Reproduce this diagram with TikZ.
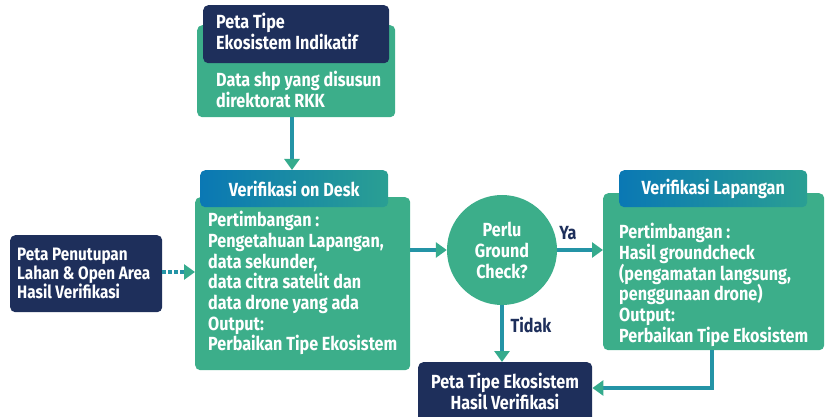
\documentclass[tikz,border=0pt]{standalone}
\usepackage{fontspec}
\setmainfont{Fira Sans}[FakeStretch=0.85]
\usetikzlibrary{arrows.meta,positioning}
\definecolor{gbox}{HTML}{3CAE8A}
\definecolor{navy}{HTML}{1E2F5B}
\definecolor{hblue}{HTML}{0A78B4}
\definecolor{hteal}{HTML}{2A9F93}
\definecolor{aline}{HTML}{2494A6}
\definecolor{ahead}{HTML}{35AB8D}
\tikzset{
  greenbox/.style={fill=gbox, rounded corners=5pt, inner sep=0pt, anchor=north west},
  navybox/.style={fill=navy, rounded corners=5pt, inner sep=0pt, anchor=north west},
  headbox/.style={left color=hblue, right color=hteal, rounded corners=5pt, inner sep=0pt, anchor=north west,
    text=white, font=\fontsize{19}{20}\selectfont\bfseries},
  txt/.style={text=white, align=left, inner sep=0pt, font=\fontsize{19}{20.7}\selectfont\bfseries},
  ctxt/.style={text=white, align=center, inner sep=0pt, font=\fontsize{19}{21}\selectfont\bfseries},
  lbl/.style={text=navy, inner sep=0pt, font=\fontsize{19}{20}\selectfont\bfseries},
  flow/.style={draw=aline, line width=3.6pt, -{Triangle[length=11pt,width=15pt,color=ahead]}},
  dotflow/.style={draw=aline, line width=3.6pt, dash pattern=on 3.5pt off 2.5pt, -{Triangle[length=11pt,width=15pt,color=ahead]}},
}
\begin{document}
\begin{tikzpicture}[x=1pt,y=-1pt]
\useasboundingbox (0,0) rectangle (825,417);
% top box
\node[greenbox, minimum width=198pt, minimum height=92pt] (shp) at (197,25) {};
\node[navybox, minimum width=186pt, minimum height=58pt] (indik) at (203,5) {};
\node[txt, anchor=north west] (indiktxt) at (216,13) {Peta Tipe\\Ekosistem Indikatif};
\node[txt, anchor=north west] (shptxt) at (216,71) {Data shp yang disusun\\direktorat RKK};
% desk box
\node[greenbox, minimum width=215pt, minimum height=173pt] (desk) at (195,197) {};
\node[headbox, minimum width=188pt, minimum height=37pt] (deskhead) at (200,170) {Verifikasi on Desk};
\node[txt, anchor=north west] (desktxt) at (208,211) {Pertimbangan :\\Pengetahuan Lapangan,\\data sekunder,\\data citra satelit dan\\data drone yang ada\\Output:\\Perbaikan Tipe Ekosistem};
% left navy box
\node[navybox, minimum width=152pt, minimum height=77pt] (tutup) at (10,235) {};
\node[txt, anchor=west, font=\fontsize{18}{19}\selectfont\bfseries] (tutuptxt) at (17,273) {Peta Penutupan\\Lahan \& Open Area\\Hasil Verifikasi};
% decision circle
\node[circle, fill=gbox, minimum size=110pt, inner sep=0pt] (cek) at (502,250) {};
\node[ctxt] (cektxt) at (502,250) {Perlu\\Ground\\Check?};
% lapangan box
\node[greenbox, minimum width=221pt, minimum height=157pt] (lap) at (603,193) {};
\node[headbox, minimum width=188pt, minimum height=37pt] (laphead) at (619,170) {Verifikasi Lapangan};
\node[txt, anchor=north west] (laptxt) at (619,223) {Pertimbangan :\\Hasil groundcheck\\(pengamatan langsung,\\penggunaan drone)\\Output:\\Perbaikan Tipe Ekosistem};
% bottom navy box
\node[navybox, minimum width=174pt, minimum height=60pt] (hasil) at (418,362) {};
\node[ctxt] (hasiltxt) at (505,391) {Peta Tipe Ekosistem\\Hasil Verifikasi};
% connectors
\draw[flow] (shp.south -| 292,0) -- (deskhead.north -| 292,0);
\draw[dotflow] (tutup.east |- 0,272) -- (desk.west |- 0,272);
\draw[flow] (desk.east |- cek.west) -- (cek.west);
\draw[flow] (cek.east) -- (lap.west |- cek.east);
\draw[flow] (cek.south) -- (hasil.north -| cek.south);
\coordinate (bend) at (712,388);
\draw[flow] (lap.south -| bend) -- (bend) -- (hasil.east |- bend);
\node[lbl] (ya) at (568,233) {Ya};
\node[lbl] (tidak) at (531,325) {Tidak};
\end{tikzpicture}
\end{document}
